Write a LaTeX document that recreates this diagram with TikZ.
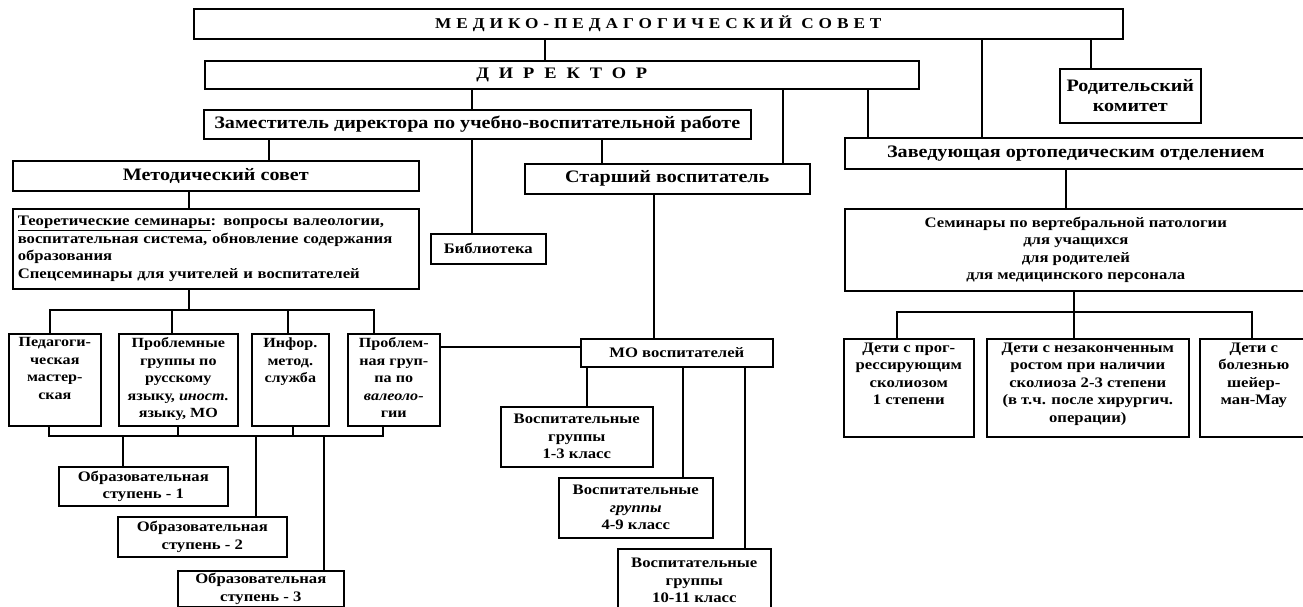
\documentclass[tikz,border=0pt]{standalone}
\usepackage{fontspec}
\setmainfont{Liberation Serif}[FakeStretch=1.15]
\usepackage{tikz}

\newcommand{\topcell}[3]{\parbox[c][#2][t]{#1}{\centering #3}}

\begin{document}
\begin{tikzpicture}[x=1pt, y=-1pt,
  box/.style = {draw, line width=1.6pt, anchor=north west, inner sep=2pt, align=center},
  big/.style = {font=\fontsize{17.5}{20}\selectfont\bfseries},
  small/.style = {font=\fontsize{14.5}{17.5}\selectfont\bfseries},
  tiny/.style = {font=\fontsize{14}{17.5}\selectfont\bfseries},
  spaced/.style = {font=\fontsize{15}{18}\selectfont\bfseries\addfontfeature{LetterSpace=33}},
  wide/.style = {font=\fontsize{16}{18}\selectfont\bfseries\addfontfeature{LetterSpace=62}},
  link/.style = {line width=1.6pt}
  ]
  \fill[white] (0,0) rectangle (1303,607);
  \useasboundingbox (0,0) rectangle (1303,607);

  % top levels
  \node[box, spaced, minimum width=929pt, minimum height=30pt] (mps) at (193,8) {МЕДИКО-ПЕДАГОГИЧЕСКИЙ СОВЕТ};
  \node[box, wide, minimum width=714pt, minimum height=28pt] (dir) at (204,60) {ДИРЕКТОР};
  \node[box, big, minimum width=141pt, minimum height=54pt] (rod) at (1059,68) {Родительский\\комитет};
  \node[box, big, minimum width=547pt, minimum height=29pt] (zam) at (203,109) {Заместитель директора по учебно-воспитательной работе};
  \node[box, big, minimum width=462pt, minimum height=31pt] (zav) at (844,137) {Заведующая ортопедическим отделением};
  \node[box, big, minimum width=406pt, minimum height=30pt] (met) at (12,160) {Методический совет};
  \node[box, big, minimum width=285pt, minimum height=30pt] (star) at (524,163) {Старший воспитатель};

  % second level
  \node[box, small, minimum width=406pt, minimum height=80pt, text width=396pt, align=left, inner xsep=5pt] (teor) at (12,208)
    {\underline{Теоретические семинары}: вопросы валеологии,\\воспитательная система, обновление содержания\\образования\\Спецсеминары для учителей и воспитателей};
  \node[box, small, minimum width=115pt, minimum height=30pt] (bib) at (430,233) {Библиотека};
  \node[box, small, minimum width=462pt, minimum height=82pt] (sem) at (844,208)
    {Семинары по вертебральной патологии\\для учащихся\\для родителей\\для медицинского персонала};

  % groups of the methodical council
  \node[box, tiny, minimum width=92pt, minimum height=92pt] (pmas) at (8,333) {\topcell{86pt}{84pt}{Педагоги-\\ческая\\мастер-\\ская}};
  \node[box, tiny, minimum width=119pt, minimum height=92pt] (prus) at (118,333) {\topcell{113pt}{84pt}{Проблемные\\группы по\\русскому\\языку, \textit{иност.}\\языку, МО}};
  \node[box, tiny, minimum width=77pt, minimum height=92pt] (info) at (251,333) {\topcell{71pt}{84pt}{Инфор.\\метод.\\служба}};
  \node[box, tiny, minimum width=92pt, minimum height=92pt] (pval) at (347,333) {\topcell{86pt}{84pt}{Проблем-\\ная груп-\\па по\\\textit{валеоло-}\\гии}};
  \node[box, small, minimum width=192pt, minimum height=28pt] (mo) at (580,338) {МО воспитателей};

  % children
  \node[box, small, minimum width=130pt, minimum height=98pt] (dprog) at (843,338) {\topcell{124pt}{90pt}{Дети с прог-\\рессирующим\\сколиозом\\1 степени}};
  \node[box, small, minimum width=202pt, minimum height=98pt] (dnez) at (986,338) {\topcell{196pt}{90pt}{Дети с незаконченным\\ростом при наличии\\сколиоза 2-3 степени\\(в т.ч. после хирургич.\\операции)}};
  \node[box, small, minimum width=108pt, minimum height=98pt] (dshm) at (1199,338) {\topcell{102pt}{90pt}{Дети с\\болезнью\\шейер-\\ман-Мау}};

  % educational steps
  \node[box, small, minimum width=169pt, minimum height=39pt] (st1) at (58,466) {Образовательная\\ступень - 1};
  \node[box, small, minimum width=169pt, minimum height=40pt] (st2) at (117,516) {Образовательная\\ступень - 2};
  \node[box, small, minimum width=166pt, minimum height=36pt] (st3) at (177,570) {Образовательная\\ступень - 3};

  % educational groups
  \node[box, small, minimum width=152pt, minimum height=60pt] (gr1) at (500,406) {Воспитательные\\группы\\1-3 класс};
  \node[box, small, minimum width=154pt, minimum height=60pt] (gr2) at (558,477) {Воспитательные\\\textit{группы}\\4-9 класс};
  \node[box, small, minimum width=153pt, minimum height=64pt] (gr3) at (617,548) {Воспитательные\\группы\\10-11 класс};

  % bus points
  \coordinate (tbus) at (189,310);
  \coordinate (bbusl) at (49,436);
  \coordinate (bbusr) at (383,436);
  \coordinate (sbus) at (1074,312);

  % links
  \draw[link] (545,0 |- mps.south) -- (545,0 |- dir.north);
  \draw[link] (982,0 |- mps.south) -- (982,0 |- zav.north);
  \draw[link] (1091,0 |- mps.south) -- (1091,0 |- rod.north);
  \draw[link] (472,0 |- dir.south) -- (472,0 |- zam.north);
  \draw[link] (783,0 |- dir.south) -- (783,0 |- star.north);
  \draw[link] (868,0 |- dir.south) -- (868,0 |- zav.north);
  \draw[link] (269,0 |- zam.south) -- (269,0 |- met.north);
  \draw[link] (472,0 |- zam.south) -- (472,0 |- bib.north);
  \draw[link] (602,0 |- zam.south) -- (602,0 |- star.north);
  \draw[link] (189,0 |- met.south) -- (189,0 |- teor.north);
  \draw[link] (654,0 |- star.south) -- (654,0 |- mo.north);
  \draw[link] (1066,0 |- zav.south) -- (1066,0 |- sem.north);

  \draw[link] (189,0 |- teor.south) -- (tbus);
  \draw[link] (50,0 |- pmas.north) |- (tbus) -| (374,0 |- pval.north);
  \draw[link] (172,0 |- prus.north) -- (172,0 |- tbus);
  \draw[link] (288,0 |- info.north) -- (288,0 |- tbus);
  \draw[link] (pval.east |- 0,347) -- (mo.west |- 0,347);

  \draw[link] (49,0 |- pmas.south) -- (bbusl) -- (bbusr) -- (383,0 |- pval.south);
  \draw[link] (178,0 |- prus.south) -- (178,0 |- bbusl);
  \draw[link] (293,0 |- info.south) -- (293,0 |- bbusl);
  \draw[link] (123,0 |- bbusl) -- (123,0 |- st1.north);
  \draw[link] (256,0 |- bbusl) -- (256,0 |- st2.north);
  \draw[link] (324,0 |- bbusl) -- (324,0 |- st3.north);

  \draw[link] (1074,0 |- sem.south) -- (1074,0 |- dnez.north);
  \draw[link] (897,0 |- dprog.north) |- (sbus) -| (1252,0 |- dshm.north);

  \draw[link] (587,0 |- mo.south) -- (587,0 |- gr1.north);
  \draw[link] (683,0 |- mo.south) -- (683,0 |- gr2.north);
  \draw[link] (745,0 |- mo.south) -- (745,0 |- gr3.north);
\end{tikzpicture}
\end{document}
